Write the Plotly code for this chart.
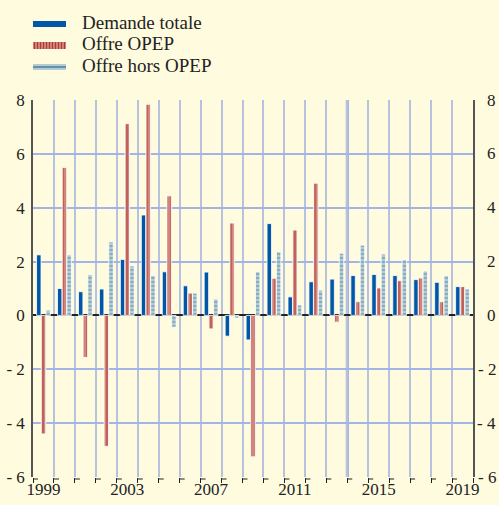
import plotly.graph_objects as go

years = list(range(1999, 2020))
demande_totale = [2.25, 1.0, 0.88, 0.98, 2.08, 3.73, 1.62, 1.10, 1.61, -0.77, -0.91,
                  3.41, 0.69, 1.25, 1.35, 1.48, 1.52, 1.48, 1.33, 1.23, 1.07]
offre_opep = [-4.4, 5.49, -1.56, -4.86, 7.12, 7.84, 4.44, 0.83, -0.5, 3.43, -5.25,
              1.38, 3.17, 4.91, -0.25, 0.51, 1.02, 1.29, 1.39, 0.51, 1.07]
offre_hors_opep = [0.2, 2.25, 1.52, 2.73, 1.84, 1.48, -0.44, 0.83, 0.61, -0.1, 1.62,
                   2.36, 0.39, 0.94, 2.31, 2.61, 2.28, 2.07, 1.65, 1.47, 0.98]
series_names = ["Demande totale", "Offre OPEP", "Offre hors OPEP"]
y_tickvals = [8, 6, 4, 2, 0, -2, -4, -6]
y_ticktext = ["8", "6", "4", "2", "0", "- 2", "- 4", "- 6"]
x_tickvals = [1999, 2003, 2007, 2011, 2015, 2019]
x_ticktext = ["1999", "2003", "2007", "2011", "2015", "2019"]

BG = "#FFFBDF"
FONT = "Liberation Serif"
BLUE = "#0057A8"
RED_D = "#AE3A32"
RED_L = "#D48A7E"
GREY_L = "#B3CBD5"
GREY_D = "#4C8192"

fig = go.Figure()
fig.add_trace(go.Bar(x=years, y=demande_totale, name=series_names[0],
                     marker=dict(color=BLUE, line=dict(color="white", width=0.8))))
fig.add_trace(go.Bar(x=years, y=offre_opep, name=series_names[1],
                     marker=dict(color=RED_L, line=dict(color="white", width=0.8),
                                 pattern=dict(shape="|", fgcolor=RED_D, bgcolor=RED_L,
                                              size=4, solidity=0.55))))
fig.add_trace(go.Bar(x=years, y=offre_hors_opep, name=series_names[2],
                     marker=dict(color=GREY_L, line=dict(color="white", width=0.8),
                                 pattern=dict(shape="-", fgcolor=GREY_D, bgcolor=GREY_L,
                                              size=4, solidity=0.4))))
fig.add_trace(go.Scatter(x=[], y=[], yaxis="y2", showlegend=False))

W, H = 499, 505
L, R, T, B = 33, 26, 100, 28
pw, ph = W - L - R, H - T - B

def px_x(x):
    return (x - L) / pw

def px_y(y):
    return (H - B - y) / ph

shapes = []
# thick vertical line between 2013 and 2014
shapes.append(dict(type="line", xref="x", yref="paper", x0=2013.5, x1=2013.5, y0=0, y1=1,
                   line=dict(color="#8EA2DD", width=3), layer="below"))
# bottom broken axis line
shapes.append(dict(type="line", xref="paper", yref="paper", x0=0, x1=1,
                   y0=px_y(479), y1=px_y(479),
                   line=dict(color="#222", width=1.2, dash="5px,15.95px")))
# legend symbols
shapes.append(dict(type="rect", xref="paper", yref="paper", x0=px_x(33), x1=px_x(66),
                   y0=px_y(27), y1=px_y(21), fillcolor=BLUE, line=dict(width=0)))
shapes.append(dict(type="rect", xref="paper", yref="paper", x0=px_x(33), x1=px_x(66),
                   y0=px_y(49), y1=px_y(42), fillcolor=RED_L, line=dict(width=0)))
for i in range(11):
    xx = 34.5 + i * 3
    shapes.append(dict(type="line", xref="paper", yref="paper", x0=px_x(xx), x1=px_x(xx),
                       y0=px_y(49), y1=px_y(42), line=dict(color=RED_D, width=1.2)))
shapes.append(dict(type="rect", xref="paper", yref="paper", x0=px_x(33), x1=px_x(66),
                   y0=px_y(70), y1=px_y(64), fillcolor=GREY_L, line=dict(width=0)))
shapes.append(dict(type="line", xref="paper", yref="paper", x0=px_x(33), x1=px_x(66),
                   y0=px_y(67), y1=px_y(67), line=dict(color=GREY_D, width=1.5)))

annotations = []
for name, yc in zip(series_names, [23, 44, 66]):
    annotations.append(dict(text=name, xref="paper", yref="paper", x=px_x(80), y=px_y(yc),
                            xanchor="left", yanchor="middle", showarrow=False,
                            font=dict(family=FONT, size=19, color="#222")))
# right-hand tick labels, right-aligned like the reference
for v, t in zip(y_tickvals, y_ticktext):
    annotations.append(dict(text=t, xref="paper", yref="y", x=px_x(498), y=v,
                            xanchor="right", yanchor="middle", showarrow=False,
                            font=dict(family=FONT, size=17, color="#222")))

fig.update_layout(
    width=W, height=H,
    margin=dict(l=L, r=R, t=T, b=B, autoexpand=False),
    paper_bgcolor=BG, plot_bgcolor=BG,
    barmode="group", bargap=0.33, bargroupgap=0.05,
    showlegend=False,
    shapes=shapes, annotations=annotations,
    font=dict(family=FONT, size=17, color="#222"),
    xaxis=dict(range=[1998.5, 2019.5], tickvals=x_tickvals, ticktext=x_ticktext,
               ticks="", showgrid=False, showline=False, zeroline=False,
               automargin=False,
               tickfont=dict(family=FONT, size=17, color="#222"),
               minor=dict(tick0=1998.5, dtick=1, ticks="outside", ticklen=5,
                          tickcolor="#222", tickwidth=1.2, showgrid=True,
                          gridcolor="#B7C3DE", gridwidth=1.5)),
    yaxis=dict(range=[-6, 8], tickvals=y_tickvals, ticktext=y_ticktext,
               showgrid=True, gridcolor="#A3B5E8", gridwidth=1.5,
               zeroline=True, zerolinecolor="#222", zerolinewidth=1.5,
               showline=True, linecolor="#555", linewidth=1.5,
               ticks="", ticklabelstandoff=3, automargin=False,
               tickfont=dict(family=FONT, size=17, color="#222")),
    yaxis2=dict(range=[-6, 8], tickvals=y_tickvals, showticklabels=False,
                overlaying="y", side="right", anchor="x",
                showgrid=False, zeroline=False, automargin=False,
                showline=True, linecolor="#555", linewidth=1.5, ticks=""),
)

fig.write_html("out.html", config={"displayModeBar": False},
               post_script="document.body.style.margin='0';document.body.style.background='%s';" % BG)
